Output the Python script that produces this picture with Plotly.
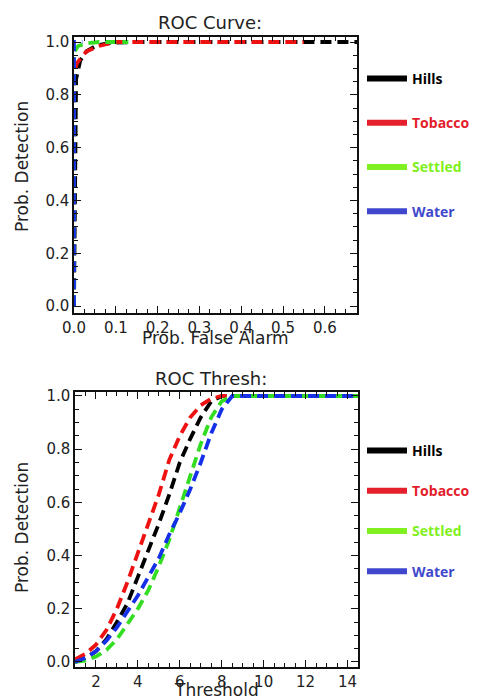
import plotly.graph_objects as go

# ---------------- data ----------------
series_names = ["Hills", "Tobacco", "Settled", "Water"]
line_colors = ["#000000", "#ee1111", "#33dd22", "#1530e8"]
legend_colors = ["#000000", "#e3202b", "#80f020", "#3f48cc"]

# ROC curve (prob false alarm, prob detection)
roc_hills_x = [0.0, 0.005, 0.015, 0.03, 0.055, 0.09, 0.15, 0.68]
roc_hills_y = [0.0, 0.86, 0.93, 0.965, 0.988, 0.997, 1.0, 1.0]
roc_tobacco_x = [0.0, 0.0, 0.007, 0.03, 0.06, 0.1, 0.55]
roc_tobacco_y = [0.0, 0.88, 0.92, 0.965, 0.985, 1.0, 1.0]
roc_settled_x = [0.0, 0.0, 0.01, 0.03, 0.06, 0.13]
roc_settled_y = [0.0, 0.96, 0.985, 0.995, 1.0, 1.0]
roc_water_x = [0.0, 0.0, 0.02]
roc_water_y = [0.0, 1.0, 1.0]

# ROC vs threshold
threshold = [1, 1.5, 2, 2.5, 3, 3.5, 4, 4.5, 5, 5.5, 6, 6.5, 7, 7.5, 8, 8.5,
             9, 10, 11, 12, 13, 14, 15]
thr_hills = [0.0, 0.015, 0.04, 0.085, 0.15, 0.22, 0.32, 0.42, 0.52, 0.63, 0.75,
             0.84, 0.92, 0.98, 1.0, 1.0, 1, 1, 1, 1, 1, 1, 1]
thr_tobacco = [0.01, 0.03, 0.065, 0.12, 0.2, 0.3, 0.41, 0.52, 0.63, 0.76, 0.85,
               0.92, 0.965, 0.99, 1.0, 1.0, 1, 1, 1, 1, 1, 1, 1]
thr_settled = [0.0, 0.005, 0.02, 0.045, 0.085, 0.14, 0.2, 0.27, 0.36, 0.46, 0.58,
               0.7, 0.82, 0.92, 0.98, 1.0, 1, 1, 1, 1, 1, 1, 1]
thr_water = [0.0, 0.015, 0.04, 0.08, 0.13, 0.19, 0.25, 0.32, 0.39, 0.48, 0.56,
             0.65, 0.75, 0.86, 0.95, 1.0, 1, 1, 1, 1, 1, 1, 1]

top_x_ticks = [0.0, 0.1, 0.2, 0.3, 0.4, 0.5, 0.6]
y_ticks = [0.0, 0.2, 0.4, 0.6, 0.8, 1.0]
bot_x_ticks = [2, 4, 6, 8, 10, 12, 14]

# ---------------- figure ----------------
W, H = 493, 699
fig = go.Figure()

roc_x = [roc_hills_x, roc_tobacco_x, roc_settled_x, roc_water_x]
roc_y = [roc_hills_y, roc_tobacco_y, roc_settled_y, roc_water_y]
thr_y = [thr_hills, thr_tobacco, thr_settled, thr_water]

dash = "11px,6px"
for i, name in enumerate(series_names):
    fig.add_trace(go.Scatter(x=roc_x[i], y=roc_y[i], mode="lines",
                             line=dict(color=line_colors[i], width=3.8, dash=dash),
                             showlegend=False, xaxis="x", yaxis="y"))
for i, name in enumerate(series_names):
    fig.add_trace(go.Scatter(x=threshold, y=thr_y[i], mode="lines",
                             line=dict(color=line_colors[i], width=3.8, dash=dash),
                             showlegend=False, xaxis="x2", yaxis="y2"))

# legend-only entries
for lg in ["legend", "legend2"]:
    for i, name in enumerate(series_names):
        fig.add_trace(go.Scatter(
            x=[None], y=[None], mode="lines",
            line=dict(color=legend_colors[i], width=6),
            name=f"<span style='color:{legend_colors[i]}'><b>{name}</b></span>",
            legend=lg, legendgroup=f"{lg}{i}",
            xaxis="x" if lg == "legend" else "x2",
            yaxis="y" if lg == "legend" else "y2"))

font_main = "DejaVu Sans"
axis_common = dict(
    showline=True, linecolor="#111", linewidth=1.5, mirror="allticks",
    ticks="inside", ticklen=7, tickwidth=1.2, tickcolor="#111",
    showgrid=False, zeroline=False, automargin=False,
    tickfont=dict(family=font_main, size=15, color="#222"),
)

fig.update_layout(
    width=W, height=H,
    margin=dict(l=0, r=0, t=0, b=0, autoexpand=False),
    paper_bgcolor="white", plot_bgcolor="white",
    xaxis=dict(domain=[74 / W, 357 / W], range=[0, 0.677], tickvals=top_x_ticks,
               tickformat=".1f", anchor="y",
               minor=dict(dtick=0.025, ticks="inside", ticklen=4, tickcolor="#111"),
               **axis_common),
    yaxis=dict(domain=[1 - 313 / H, 1 - 37 / H], range=[-0.026, 1.019], tickvals=y_ticks,
               tickformat=".1f", anchor="x",
               minor=dict(dtick=0.05, ticks="inside", ticklen=4, tickcolor="#111"),
               **axis_common),
    xaxis2=dict(domain=[75 / W, 358 / W], range=[1, 14.5], tickvals=bot_x_ticks,
                anchor="y2",
                minor=dict(dtick=0.5, ticks="inside", ticklen=4, tickcolor="#111"),
                **axis_common),
    yaxis2=dict(domain=[1 - 667 / H, 1 - 392 / H], range=[-0.019, 1.015], tickvals=y_ticks,
                tickformat=".1f", anchor="x2",
                minor=dict(dtick=0.05, ticks="inside", ticklen=4, tickcolor="#111"),
                **axis_common),
    legend=dict(x=362 / W, y=1 - 63 / H, xanchor="left", yanchor="top",
                bgcolor="rgba(0,0,0,0)", tracegroupgap=23,
                font=dict(family="Open Sans", size=14), itemwidth=40),
    legend2=dict(x=362 / W, y=1 - 435 / H, xanchor="left", yanchor="top",
                 bgcolor="rgba(0,0,0,0)", tracegroupgap=19,
                 font=dict(family="Open Sans", size=14), itemwidth=40),
)

text_font = dict(family=font_main, size=17, color="#222")
ann = [
    dict(text="ROC Curve:", x=210 / W, y=1 - 22 / H, font=dict(family=font_main, size=18, color="#222")),
    dict(text="ROC Thresh:", x=211 / W, y=1 - 378 / H, font=dict(family=font_main, size=18, color="#222")),
    dict(text="Prob. False Alarm", x=215 / W, y=1 - 338 / H, font=text_font),
    dict(text="Threshold", x=216 / W, y=1 - 690 / H, font=text_font),
    dict(text="Prob. Detection", x=22 / W, y=1 - 167 / H, textangle=-90, font=text_font),
    dict(text="Prob. Detection", x=22 / W, y=1 - 528 / H, textangle=-90, font=text_font),
]
for a in ann:
    fig.add_annotation(xref="paper", yref="paper", showarrow=False,
                       xanchor="center", yanchor="middle", **a)

fig.write_html("out.html", config={"displayModeBar": False},
               post_script="document.body.style.margin='0';document.body.style.overflow='hidden';")
